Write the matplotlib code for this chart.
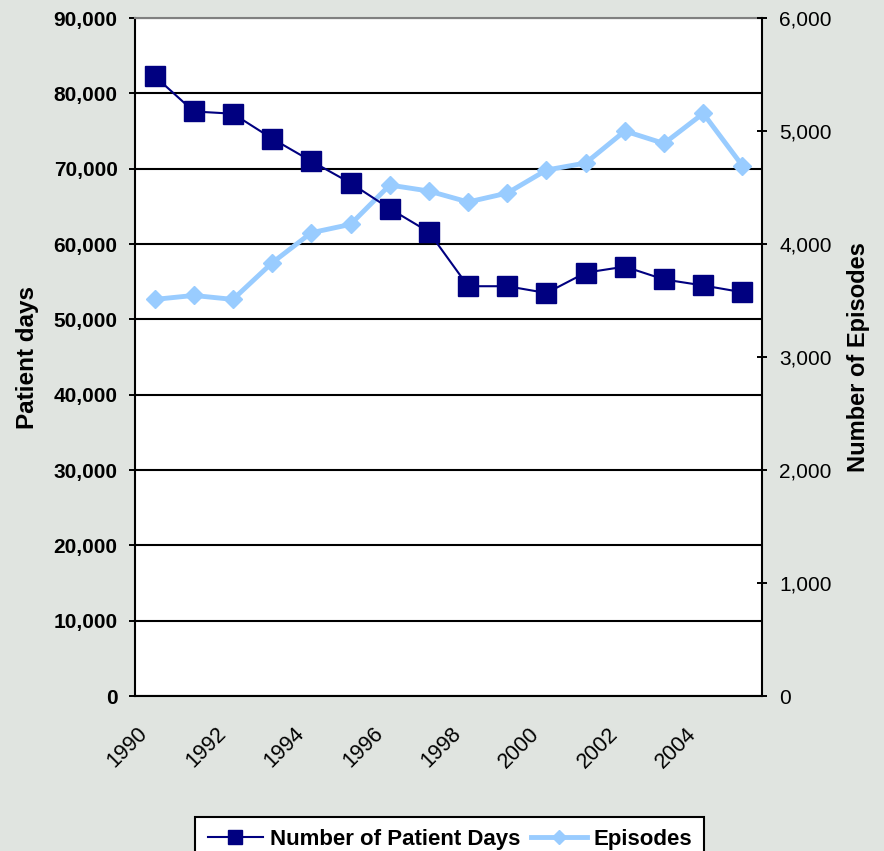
import matplotlib
matplotlib.use("Agg")
import matplotlib.pyplot as plt
from matplotlib.ticker import FuncFormatter, MultipleLocator, FixedLocator
from matplotlib.transforms import ScaledTranslation
from matplotlib.lines import Line2D

plt.rcParams["font.family"] = ["Liberation Sans", "DejaVu Sans"]

years = list(range(1990, 2006))
patient_days = [82300, 77600, 77300, 74000, 71000, 68100, 64700, 61600,
                54400, 54400, 53500, 56200, 57000, 55300, 54500, 53600]
episodes = [3510, 3545, 3510, 3834, 4100, 4174, 4522, 4469,
            4372, 4451, 4655, 4717, 5000, 4890, 5156, 4693]
year_labels = [str(y) for y in years]

NAVY = "#000080"
LIGHT = "#99CCFF"
BG = "#E0E4E0"

fig = plt.figure(figsize=(8.84, 8.51), dpi=100, facecolor=BG)
ax = fig.add_axes([0.1527, 0.1821, 0.7093, 0.7967])
ax2 = ax.twinx()
ax3 = ax.twinx()
ax.set_zorder(1); ax2.set_zorder(2); ax3.set_zorder(3)
ax.set_facecolor("white")
ax2.patch.set_visible(False); ax3.patch.set_visible(False)

x = list(range(len(years)))
for a in (ax, ax2, ax3):
    a.set_xlim(-0.5, len(years) - 0.5)
ax.set_ylim(0, 90000)
ax3.set_ylim(0, 90000)
ax2.set_ylim(0, 6000)

# left axis: bold labels, grid
ax.yaxis.set_major_locator(MultipleLocator(10000))
ax.yaxis.set_major_formatter(FuncFormatter(lambda v, p: f"{int(v):,}"))
ax.tick_params(axis="y", direction="out", length=4.5, width=1.4, pad=8, labelsize=15)
for t in ax.get_yticklabels():
    t.set_fontweight("bold")
ax.grid(axis="y", color="black", lw=1.5)
ax.set_axisbelow(True)

# x axis: tick marks at category boundaries, labels every other year
ax.xaxis.set_major_locator(FixedLocator([i - 0.5 for i in range(len(years) + 1)]))
ax.set_xticklabels([])
ax.tick_params(axis="x", which="major", direction="out", length=6, width=1.4)
ax.set_xticks(x[::2], minor=True)
ax.set_xticklabels(year_labels[::2], minor=True, rotation=45, ha="right",
                   va="center", rotation_mode="anchor", fontsize=15.5)
ax.tick_params(axis="x", which="minor", length=0, pad=25)
off = ScaledTranslation(-0.1, 0, fig.dpi_scale_trans)
for t in ax.xaxis.get_minorticklabels():
    t.set_transform(t.get_transform() + off)

for s in ("left", "bottom"):
    ax.spines[s].set_color("black"); ax.spines[s].set_linewidth(1.5)
ax.spines["top"].set_color("#808080"); ax.spines["top"].set_linewidth(1.5)
ax.spines["right"].set_visible(False)

# right axis
ax2.yaxis.set_major_locator(MultipleLocator(1000))
ax2.yaxis.set_major_formatter(FuncFormatter(lambda v, p: f"{int(v):,}"))
ax2.tick_params(axis="y", direction="inout", length=7, width=1.4, pad=9, labelsize=15)
ax2.spines["right"].set_color("black"); ax2.spines["right"].set_linewidth(1.5)
for s in ("left", "top", "bottom"):
    ax2.spines[s].set_visible(False)
ax2.set_xticks([])

ax3.axis("off")

ax2.plot(x, episodes, color=LIGHT, lw=3.5, marker="D", ms=9, mec=LIGHT, clip_on=False)
ax3.plot(x, patient_days, color=NAVY, lw=1.5, marker="s", ms=14, mec=NAVY, clip_on=False)

ax.set_ylabel("Patient days", fontsize=17.5, fontweight="bold")
ax.yaxis.set_label_coords(-0.153, 0.5)
ax2.set_ylabel("Number of Episodes", fontsize=17, fontweight="bold")
ax2.yaxis.set_label_coords(1.1356, 0.5)

handles = [Line2D([], [], color=NAVY, lw=1.5, marker="s", ms=10),
           Line2D([], [], color=LIGHT, lw=3.5, marker="D", ms=7)]
leg = fig.legend(handles, ["Number of Patient Days", "Episodes"], loc="upper center",
                 bbox_to_anchor=(0.509, 0.053), ncol=2, fancybox=False,
                 frameon=True, edgecolor="black", framealpha=1,
                 prop={"weight": "bold", "size": 16}, handlelength=2.5,
                 columnspacing=0.5, handletextpad=0.3, borderpad=0.55)
leg.get_frame().set_linewidth(1.5)

fig.savefig("out.png", dpi=100, facecolor=BG)
